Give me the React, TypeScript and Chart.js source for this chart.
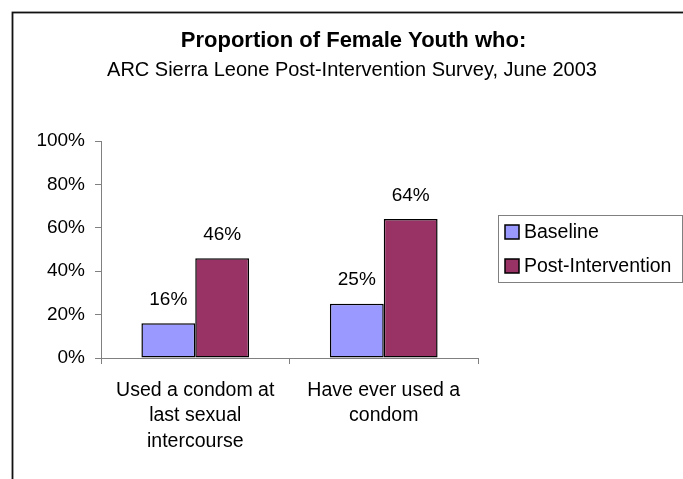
import React, { useEffect, useRef } from "react";
import { Chart, registerables } from "chart.js";

Chart.register(...registerables);

// Survey data
const categories: string[][] = [
  ["Used a condom at", "last sexual", "intercourse"],
  ["Have ever used a", "condom"],
];
const seriesNames = ["Baseline", "Post-Intervention"];
const baselineValues = [16, 25];
const postInterventionValues = [46, 64];
const seriesColors = ["#9999FF", "#993366"];
const yTicks = [0, 20, 40, 60, 80, 100];

const titleText = "Proportion of Female Youth who:";
const subtitleText = "ARC Sierra Leone Post-Intervention Survey, June 2003";

const FONT = "'Liberation Sans', Arial, Helvetica, sans-serif";

// Frame, headings, value labels and the boxed legend
const decorations = {
  id: "decorations",
  afterDraw(chart: Chart) {
    const ctx = chart.ctx;
    ctx.save();

    // outer frame
    ctx.strokeStyle = "#111";
    ctx.lineWidth = 1.8;
    ctx.strokeRect(12.5, 12.5, 800, 600);

    // headings
    ctx.fillStyle = "#000";
    ctx.textAlign = "center";
    ctx.textBaseline = "alphabetic";
    ctx.font = `bold 22px ${FONT}`;
    ctx.fillText(titleText, 353.5, 47);
    ctx.font = `20px ${FONT}`;
    ctx.fillText(subtitleText, 352, 76);

    // value labels above bars
    ctx.font = `19px ${FONT}`;
    chart.data.datasets.forEach((ds, di) => {
      const meta = chart.getDatasetMeta(di);
      meta.data.forEach((el: any, i: number) => {
        const v = ds.data[i] as number;
        ctx.fillText(`${v}%`, el.x, el.y - 18.5);
      });
    });

    // legend box
    ctx.strokeStyle = "#808080";
    ctx.lineWidth = 1;
    ctx.strokeRect(498.5, 215.5, 184, 67);
    ctx.textAlign = "left";
    ctx.textBaseline = "middle";
    ctx.font = `19.5px ${FONT}`;
    chart.data.datasets.forEach((ds, di) => {
      const cy = 232 + di * 34;
      ctx.fillStyle = ds.backgroundColor as string;
      ctx.fillRect(505, cy - 7, 14, 14);
      ctx.strokeStyle = "#000";
      ctx.lineWidth = 1.5;
      ctx.strokeRect(505, cy - 7, 14, 14);
      ctx.fillStyle = "#000";
      ctx.fillText(ds.label as string, 524, cy + 1);
    });

    ctx.restore();
  },
};

export default function App() {
  const canvasRef = useRef<HTMLCanvasElement | null>(null);

  useEffect(() => {
    if (!canvasRef.current) return;
    const chart = new Chart(canvasRef.current, {
      type: "bar",
      data: {
        labels: categories,
        datasets: [
          {
            label: seriesNames[0],
            data: baselineValues,
            backgroundColor: seriesColors[0],
            borderColor: "#000",
            borderWidth: 1.5,
            borderSkipped: false,
          },
          {
            label: seriesNames[1],
            data: postInterventionValues,
            backgroundColor: seriesColors[1],
            borderColor: "#000",
            borderWidth: 1.5,
            borderSkipped: false,
          },
        ],
      },
      options: {
        responsive: false,
        animation: false,
        events: [],
        datasets: {
          bar: { categoryPercentage: 2 / 3.5, barPercentage: 1 },
        },
        layout: { padding: { top: 141, right: 205, left: 0, bottom: 0 } },
        plugins: {
          legend: { display: false },
          title: { display: false },
          tooltip: { enabled: false },
        },
        scales: {
          x: {
            offset: true,
            grid: {
              offset: true,
              drawOnChartArea: false,
              drawTicks: true,
              tickLength: 6,
              color: "#808080",
            },
            border: { display: true, color: "#808080", width: 1 },
            ticks: {
              color: "#000",
              padding: 14,
              maxRotation: 0,
              autoSkip: false,
              font: { family: FONT, size: 19.5, lineHeight: 1.3 },
            },
            afterFit(scale: any) {
              scale.height = 121;
            },
          },
          y: {
            min: 0,
            max: 100,
            afterBuildTicks(scale: any) {
              scale.ticks = yTicks.map((v) => ({ value: v }));
            },
            grid: {
              drawOnChartArea: false,
              drawTicks: true,
              tickLength: 6,
              color: "#808080",
            },
            border: { display: true, color: "#808080", width: 1 },
            ticks: {
              color: "#000",
              padding: 10,
              font: { family: FONT, size: 19 },
              callback: (v: any) => `${v}%`,
            },
            afterFit(scale: any) {
              scale.width = 101;
            },
          },
        },
      },
      plugins: [decorations],
    });
    return () => chart.destroy();
  }, []);

  return (
    <div
      style={{
        position: "fixed",
        left: 0,
        top: 0,
        width: 683,
        height: 479,
        background: "#fff",
      }}
    >
      <canvas ref={canvasRef} width={683} height={479} />
    </div>
  );
}
